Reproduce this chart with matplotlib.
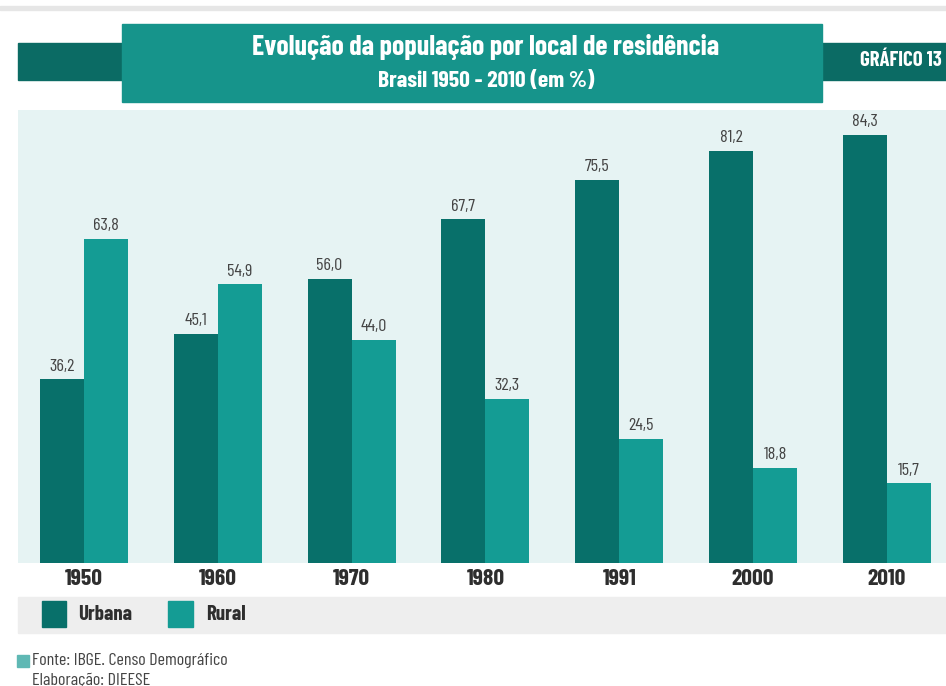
import matplotlib.pyplot as plt
from matplotlib.patches import Rectangle

anos = ["1950", "1960", "1970", "1980", "1991", "2000", "2010"]
urbana = [36.2, 45.1, 56.0, 67.7, 75.5, 81.2, 84.3]
rural = [63.8, 54.9, 44.0, 32.3, 24.5, 18.8, 15.7]

c_urb = "#08706a"
c_rur = "#149c94"
c_title = "#16948b"
c_dark = "#0b6b64"
c_panel = "#e6f3f3"
c_band = "#eeeeee"
c_txt = "#2e2e2e"

narrow = ["Barlow Condensed", "DejaVu Sans"]

W, H = 946, 686
fig = plt.figure(figsize=(W / 100, H / 100), dpi=100)

def box(x0, y0, x1, y1, color, z=0):
    # pixel coords, y from top
    fig.patches.append(Rectangle((x0 / W, 1 - y1 / H), (x1 - x0) / W, (y1 - y0) / H,
                                 transform=fig.transFigure, color=color, zorder=z))

# header
box(0, 6, W, 10, "#e6e6e6")
box(18, 43, 122, 80, c_dark)
box(822, 43, W, 80, c_dark)
box(122, 24, 822, 102, c_title, 1)
fig.text(486 / W, 1 - 47 / H, "Evolução da população por local de residência", color="white",
         fontsize=20, fontweight="bold", family=narrow, ha="center", va="center", zorder=3)
fig.text(486 / W, 1 - 81 / H, "Brasil 1950 - 2010 (em %)", color="white",
         fontsize=17, fontweight="bold", family=narrow, ha="center", va="center", zorder=3)
fig.text(901 / W, 1 - 61 / H, "GRÁFICO 13", color="white",
         fontsize=15, fontweight="bold", family=narrow, ha="center", va="center", zorder=3)

# bars
ax = fig.add_axes([18 / W, (H - 563) / H, 928 / W, 453 / H])
ax.set_facecolor(c_panel)
x = range(len(anos))
w = 0.329
ax.bar([i - w / 2 for i in x], urbana, w, color=c_urb)
ax.bar([i + w / 2 for i in x], rural, w, color=c_rur)
for i in x:
    ax.annotate(f"{urbana[i]:.1f}".replace(".", ","), (i - w / 2, urbana[i]), xytext=(0, 4),
                textcoords="offset points", ha="center", va="bottom", fontsize=13,
                color="#444444", family=narrow)
    ax.annotate(f"{rural[i]:.1f}".replace(".", ","), (i + w / 2, rural[i]), xytext=(0, 4),
                textcoords="offset points", ha="center", va="bottom", fontsize=13,
                color="#444444", family=narrow)
ax.set_xlim(-0.493, 6.442)
ax.set_ylim(0, 89.2)
ax.set_yticks([])
ax.set_xticks(list(x))
ax.set_xticklabels(anos, fontsize=17, fontweight="bold", family=narrow, color=c_txt)
ax.tick_params(axis="x", length=0, pad=4)
for s in ax.spines.values():
    s.set_visible(False)

# legend band
box(18, 597, W, 633, c_band)
box(42, 601, 66, 627, c_urb, 1)
box(168, 601, 193, 627, c_rur, 1)
fig.text(78 / W, 1 - 614 / H, "Urbana", fontsize=15, fontweight="bold", family=narrow,
         color=c_txt, va="center", zorder=3)
fig.text(206 / W, 1 - 614 / H, "Rural", fontsize=15, fontweight="bold", family=narrow,
         color=c_txt, va="center", zorder=3)

# footer
box(17, 655, 29, 667, "#5fb8b4")
fig.text(32 / W, 1 - 661 / H, "Fonte: IBGE. Censo Demográfico", fontsize=13, family=narrow,
         color="#444444", va="center")
fig.text(32 / W, 1 - 680 / H, "Elaboração: DIEESE", fontsize=13, family=narrow,
         color="#444444", va="center")

fig.savefig("out.png", dpi=100, facecolor="white")
